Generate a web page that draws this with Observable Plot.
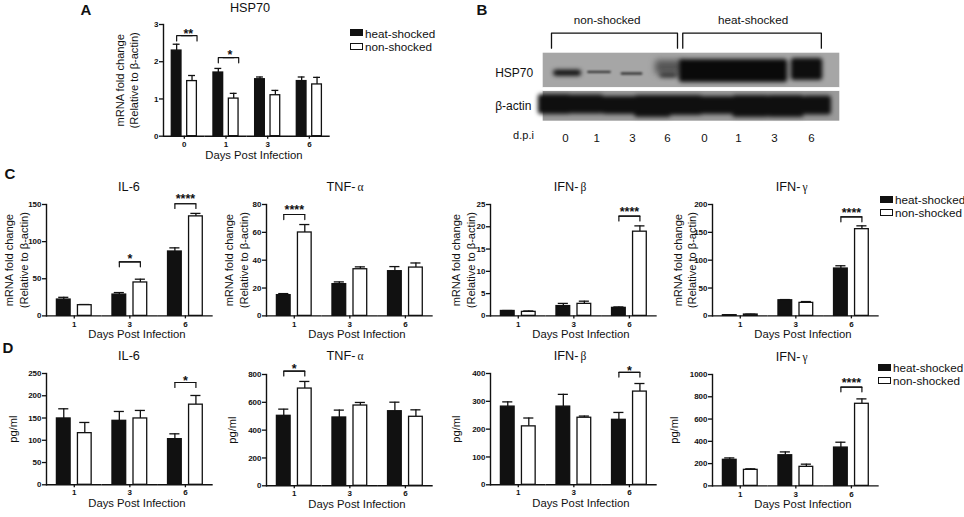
<!DOCTYPE html>
<html>
<head>
<meta charset="utf-8">
<script src="https://cdn.jsdelivr.net/npm/d3@7"></script>
<script src="https://cdn.jsdelivr.net/npm/@observablehq/plot@0.6"></script>
<style>
  body { margin: 0; background: #fff; }
  #page { position: relative; width: 964px; height: 517px; overflow: hidden; font-family: "Liberation Sans", Arial, sans-serif; color: #111; }
  #page svg { position: absolute; overflow: visible; background: transparent; }
  #page div { position: absolute; white-space: nowrap; }
  .title { font-size: 12.7px; transform: translate(-50%, -50%); }
  .title span { font-family: "Liberation Serif", serif; font-size: 11.5px; margin-left: 2px; }
  .letter { font-size: 15px; font-weight: bold; transform: translate(-50%, -50%); }
  .legend-label { font-size: 11.7px; transform: translateY(-50%); }
  .swatch { box-sizing: border-box; width: 12.5px; height: 7px; border: 1.3px solid #111; }
  svg g[aria-description="thin"] { filter: blur(0.8px); }
  svg g[aria-description="bands"] { filter: blur(2px); }
  svg g[aria-description="smear"] { filter: blur(3px); }
</style>
</head>
<body>
<div id="page"></div>
<script>
const groups = ["heat-shocked", "non-shocked"];
const daysA = [0, 1, 3, 6];
const days = [1, 3, 6];

// panel A, mRNA
const hsp70Heat = [2.3, 1.71, 1.53, 1.48];
const hsp70HeatTop = [2.47, 1.82, 1.59, 1.59];
const hsp70Non = [1.48, 1.01, 1.1, 1.39];
const hsp70NonTop = [1.63, 1.15, 1.23, 1.58];
const hsp70Ticks = [0, 1, 2, 3];
const hsp70Sig = [[0, 2.7, 2.56, 2.83, "**"], [1, 2.11, 1.97, 2.25, "*"]];

// panel C, mRNA
const il6MrnaHeat = [22, 28.7, 86.7];
const il6MrnaHeatTop = [25, 31.4, 91.6];
const il6MrnaNon = [14.4, 45, 134];
const il6MrnaNonTop = [15.3, 49.4, 138];
const il6MrnaTicks = [0, 50, 100, 150];
const il6MrnaSig = [[3, 72.7, 66, 80, "*"], [6, 151, 144.6, 161, "****"]];

const tnfMrnaHeat = [14.9, 22.8, 32.1];
const tnfMrnaHeatTop = [16, 24.4, 35.4];
const tnfMrnaNon = [59.9, 33.5, 34.7];
const tnfMrnaNonTop = [65.6, 35.2, 38];
const tnfMrnaTicks = [0, 20, 40, 60, 80];
const tnfMrnaSig = [[1, 72.8, 69.2, 78.3, "****"]];

const ifnbMrnaHeat = [1.1, 2.2, 1.8];
const ifnbMrnaHeatTop = [1.2, 2.8, 2];
const ifnbMrnaNon = [0.9, 2.7, 18.9];
const ifnbMrnaNonTop = [1.1, 3.3, 20.2];
const ifnbMrnaTicks = [0, 5, 10, 15, 20, 25];
const ifnbMrnaSig = [[6, 22.4, 21.3, 24.1, "****"]];

const ifngMrnaHeat = [1.2, 28, 85];
const ifngMrnaHeatTop = [1.8, 29.3, 90];
const ifngMrnaNon = [2.4, 23.4, 155.7];
const ifngMrnaNonTop = [3, 25.7, 161.7];
const ifngMrnaTicks = [0, 50, 100, 150, 200];
const ifngMrnaSig = [[6, 177.8, 168.9, 191, "****"]];

// panel D, protein
const il6ProtHeat = [149, 143.7, 102.5];
const il6ProtHeatTop = [170.7, 164.7, 114.5];
const il6ProtNon = [116, 149, 180];
const il6ProtNonTop = [140, 167, 200.6];
const il6ProtTicks = [0, 50, 100, 150, 200, 250];
const il6ProtSig = [[6, 229.8, 218.6, 241, "*"]];

const tnfProtHeat = [503, 491, 536];
const tnfProtHeatTop = [551, 544, 601];
const tnfProtNon = [699, 577, 496];
const tnfProtNonTop = [750, 599, 546];
const tnfProtTicks = [0, 200, 400, 600, 800];
const tnfProtSig = [[1, 824, 790, 860, "*"]];

const ifnbProtHeat = [281, 281, 233.5];
const ifnbProtHeatTop = [298, 325, 260];
const ifnbProtNon = [210, 241, 335];
const ifnbProtNonTop = [240, 247, 364];
const ifnbProtTicks = [0, 100, 200, 300, 400];
const ifnbProtSig = [[6, 404, 387, 421, "*"]];

const ifngProtHeat = [234, 275, 344];
const ifngProtHeatTop = [251, 305, 392];
const ifngProtNon = [144, 171, 737];
const ifngProtNonTop = [153, 195, 781];
const ifngProtTicks = [0, 200, 400, 600, 800, 1000];
const ifngProtSig = [[6, 886, 844, 955, "****"]];

// panel B, blot bands: lane, lane span, height on the page, thickness, shade
const dpiLabels = [0, 1, 3, 6, 0, 1, 3, 6];
const dpiLanes = [0, 0.89, 1.91, 2.91, 3.97, 4.94, 5.97, 7.03];
const hspLane = [0.06, 2.95, 4.8, 6.9];
const hspSpan = [0.8, 0.5, 3.1, 0.9];
const hspMid = [72.7, 75, 70.5, 69];
const hspThick = [6, 5, 23, 22];
const hspShade = ["#0c0c0c", "#333", "#0a0a0a", "#0e0e0e"];
const thinLane = [0.97, 1.9];
const thinSpan = [0.68, 0.62];
const thinMid = [71.8, 73.5];
const thinThick = [1.8, 1.8];
const smearLane = [2.95];
const smearSpan = [0.75];
const smearMid = [67];
const smearThick = [14];
const actinLane = [-0.3, 0.6, 1.55, 2.5, 3.4, 4.3, 5.3, 6.3, 7.2];
const actinSpan = [0.95, 1, 1, 1.05, 1.05, 1.05, 1.05, 1.05, 0.8];
const actinMid = [104, 104, 105, 106, 105, 105, 106, 106, 105];
const actinThick = [20, 19, 18, 22, 20, 18, 22, 22, 19];

const page = document.getElementById("page");

function addText(cls, x, y, html) {
  const el = document.createElement("div");
  el.className = cls;
  el.style.left = x + "px";
  el.style.top = y + "px";
  el.innerHTML = html;
  page.appendChild(el);
}

function addLegend(x, y1, y2) {
  [[y1, "#111"], [y2, "#fff"]].forEach(([y, fill], i) => {
    const sw = document.createElement("div");
    sw.className = "swatch";
    sw.style.left = x + "px";
    sw.style.top = y - 3.5 + "px";
    sw.style.background = fill;
    page.appendChild(sw);
    addText("legend-label", x + 15, y, groups[i]);
  });
}

function barPanel(p) {
  const marginLeft = 52, marginTop = 34, marginBottom = 34, marginRight = 4;
  const rows = p.days.flatMap((day, i) => [
    {day, group: groups[0], value: p.heat[i], top: p.heatTop[i]},
    {day, group: groups[1], value: p.non[i], top: p.nonTop[i]}
  ]);
  const stars = p.sig.map(([day, , , y, text]) => ({day, y, text}));
  const legLeft = p.sig.flatMap(([day, top, leg], z) => [
    {z, day, group: groups[0], y: leg},
    {z, day, group: groups[0], y: top},
    {z, day, group: groups[1], y: top}
  ]);
  const legRight = p.sig.flatMap(([day, top, leg], z) => [
    {z, day, group: groups[0], y: top},
    {z, day, group: groups[1], y: top},
    {z, day, group: groups[1], y: leg}
  ]);
  const yMax = p.ticks[p.ticks.length - 1];
  const chart = Plot.plot({
    width: marginLeft + p.w + marginRight,
    height: marginTop + p.h + marginBottom,
    marginLeft, marginRight, marginTop, marginBottom,
    style: {fontFamily: '"Liberation Sans", Arial, sans-serif', color: "#111", background: "transparent", overflow: "visible"},
    fx: {domain: p.days, padding: 0, round: false, label: null},
    x: {domain: groups, axis: null, paddingInner: p.inner, paddingOuter: p.outer, round: false},
    y: {domain: [0, yMax], label: null},
    color: {domain: groups, range: ["#111", "#fff"]},
    marks: [
      Plot.ruleX(rows, {fx: "day", x: "group", y1: "value", y2: "top", stroke: "#111", strokeWidth: 1.3}),
      Plot.tickY(rows, {fx: "day", x: "group", y: "top", stroke: "#111", strokeWidth: 1.3, insetLeft: p.cap, insetRight: p.cap}),
      Plot.barY(rows, {fx: "day", x: "group", y: "value", fill: "group", stroke: "#111", strokeWidth: 1.3}),
      Plot.line(legLeft, {fx: "day", x: "group", y: "y", z: "z", stroke: "#111", strokeWidth: 1.2}),
      Plot.line(legRight, {fx: "day", x: "group", y: "y", z: "z", stroke: "#111", strokeWidth: 1.2, dx: p.spread || 0}),
      Plot.text(stars, {fx: "day", y: "y", text: "text", fontSize: 12.5, fontWeight: "bold", fill: "#111", dy: 3, dx: p.spread ? p.spread * 0.8 : 0}),
      Plot.ruleY([0], {stroke: "#111", strokeWidth: 1.4}),
      Plot.frame({anchor: "left", facet: "super", stroke: "#111", strokeWidth: 1.4}),
      Plot.axisY({ticks: p.ticks, tickFormat: "d", tickSize: 4, tickPadding: 1, fontSize: 8, fontWeight: "bold", strokeWidth: 1.3, label: null}),
      Plot.axisFx({anchor: "bottom", tickSize: 3, tickPadding: 2, fontSize: 8, fontWeight: "bold", strokeWidth: 1.3, label: null}),
      Plot.text([p.yLabel], {facet: "super", frameAnchor: "left", rotate: -90, text: d => d, fontSize: 11.1, lineHeight: 1.3, fill: "#111", textAnchor: "middle", dx: p.labelDx, dy: p.labelDy || 0}),
      Plot.text(["Days Post Infection"], {facet: "super", frameAnchor: "bottom", text: d => d, fontSize: 11.3, fill: "#111", dx: p.xLabelDx, dy: 22.5})
    ]
  });
  chart.style.left = p.x - marginLeft + "px";
  chart.style.top = p.top - marginTop + "px";
  page.appendChild(chart);
  addText("title", p.titleX, p.titleY, p.title);
}

const mrna = "mRNA fold change\n(Relative to β-actin)";
const wide = {w: 166.7, inner: 0.348, outer: 0.495, cap: 1.8, xLabelDx: 7};

barPanel({...wide, title: "HSP70", titleX: 250, titleY: 8, x: 162.7, top: 24.3, h: 111.7, days: daysA,
  heat: hsp70Heat, heatTop: hsp70HeatTop, non: hsp70Non, nonTop: hsp70NonTop, ticks: hsp70Ticks, sig: hsp70Sig,
  yLabel: mrna, labelDx: -37, inner: 0.37, outer: 0.539, cap: 1.4, spread: 5, xLabelDx: 7});

barPanel({...wide, title: "IL-6", titleX: 129, titleY: 187, x: 46, top: 204.3, h: 111.4, days,
  heat: il6MrnaHeat, heatTop: il6MrnaHeatTop, non: il6MrnaNon, nonTop: il6MrnaNonTop, ticks: il6MrnaTicks, sig: il6MrnaSig,
  yLabel: mrna, labelDx: -30.5});
barPanel({...wide, title: "TNF-<span>α</span>", titleX: 345, titleY: 187, x: 265.7, top: 204.3, h: 111.4, days,
  heat: tnfMrnaHeat, heatTop: tnfMrnaHeatTop, non: tnfMrnaNon, nonTop: tnfMrnaNonTop, ticks: tnfMrnaTicks, sig: tnfMrnaSig,
  yLabel: mrna, labelDx: -30.5});
barPanel({...wide, title: "IFN-<span>β</span>", titleX: 570, titleY: 187, x: 490, top: 204.3, h: 111.4, days,
  heat: ifnbMrnaHeat, heatTop: ifnbMrnaHeatTop, non: ifnbMrnaNon, nonTop: ifnbMrnaNonTop, ticks: ifnbMrnaTicks, sig: ifnbMrnaSig,
  yLabel: mrna, labelDx: -27.5});
barPanel({...wide, title: "IFN-<span>γ</span>", titleX: 791.7, titleY: 187, x: 711.7, top: 204.3, h: 111.4, days,
  heat: ifngMrnaHeat, heatTop: ifngMrnaHeatTop, non: ifngMrnaNon, nonTop: ifngMrnaNonTop, ticks: ifngMrnaTicks, sig: ifngMrnaSig,
  yLabel: mrna, labelDx: -28});

barPanel({...wide, title: "IL-6", titleX: 129, titleY: 355.7, x: 46, top: 372.7, h: 111.3, days,
  heat: il6ProtHeat, heatTop: il6ProtHeatTop, non: il6ProtNon, nonTop: il6ProtNonTop, ticks: il6ProtTicks, sig: il6ProtSig,
  yLabel: "pg/ml", labelDx: -34, xLabelDx: 7});
barPanel({...wide, title: "TNF-<span>α</span>", titleX: 345, titleY: 355.7, x: 265.7, top: 374, h: 111.3, days,
  heat: tnfProtHeat, heatTop: tnfProtHeatTop, non: tnfProtNon, nonTop: tnfProtNonTop, ticks: tnfProtTicks, sig: tnfProtSig,
  yLabel: "pg/ml", labelDx: -35, xLabelDx: 7});
barPanel({...wide, title: "IFN-<span>β</span>", titleX: 570, titleY: 355.7, x: 490, top: 372.7, h: 111.3, days,
  heat: ifnbProtHeat, heatTop: ifnbProtHeatTop, non: ifnbProtNon, nonTop: ifnbProtNonTop, ticks: ifnbProtTicks, sig: ifnbProtSig,
  yLabel: "pg/ml", labelDx: -35, xLabelDx: 7});
barPanel({...wide, title: "IFN-<span>γ</span>", titleX: 791.7, titleY: 357, x: 711.7, top: 374.3, h: 111.4, days,
  heat: ifngProtHeat, heatTop: ifngProtHeatTop, non: ifngProtNon, nonTop: ifngProtNonTop, ticks: ifngProtTicks, sig: ifngProtSig,
  yLabel: "pg/ml", labelDx: -39, xLabelDx: 7});

// panel B: a drawn stand-in for the western blot
const hspBands = hspLane.map((lane, i) => ({lane, span: hspSpan[i], mid: hspMid[i], thick: hspThick[i], shade: hspShade[i]}));
const thinBands = thinLane.map((lane, i) => ({lane, span: thinSpan[i], mid: thinMid[i], thick: thinThick[i], shade: "#1c1c1c"}));
const smearBands = smearLane.map((lane, i) => ({lane, span: smearSpan[i], mid: smearMid[i], thick: smearThick[i], shade: "#555"}));
const actinBands = actinLane.map((lane, i) => ({lane, span: actinSpan[i], mid: actinMid[i], thick: actinThick[i], shade: "#0f0f0f"}));
const blotBands = [...actinBands, ...hspBands];
const strips = [{y1: 52.7, y2: 87.3, shade: "#a6a6a6"}, {y1: 90.7, y2: 120.7, shade: "#9a9a9a"}];
const braces = [
  {z: 0, lane: -0.4, y: 47.7}, {z: 0, lane: -0.4, y: 32.7}, {z: 0, lane: 3.2, y: 32.7}, {z: 0, lane: 3.2, y: 47.7},
  {z: 1, lane: 3.35, y: 47.7}, {z: 1, lane: 3.35, y: 32.7}, {z: 1, lane: 7.31, y: 32.7}, {z: 1, lane: 7.31, y: 47.7}
];
const bandRect = {
  x1: d => d.lane - d.span / 2, x2: d => d.lane + d.span / 2,
  y1: d => d.mid - d.thick / 2, y2: d => d.mid + d.thick / 2,
  fill: "shade", rx: 3
};
const blot = Plot.plot({
  width: 370,
  height: 150,
  margin: 0,
  style: {fontFamily: '"Liberation Sans", Arial, sans-serif', color: "#111", background: "transparent", overflow: "visible"},
  x: {domain: [-0.637, 7.837], range: [62.7, 359.3], axis: null},
  y: {domain: [0, 150], range: [0, 150], axis: null},
  marks: [
    Plot.rect(strips, {x1: -0.637, x2: 7.837, y1: "y1", y2: "y2", fill: "shade"}),
    Plot.rect(smearBands, {...bandRect, ariaDescription: "smear"}),
    Plot.rect(blotBands, {...bandRect, ariaDescription: "bands"}),
    Plot.rect(thinBands, {...bandRect, rx: 1, ariaDescription: "thin"}),
    Plot.rect([{y1: 87.3, y2: 90.7}], {x1: -0.637, x2: 7.837, y1: "y1", y2: "y2", fill: "#fff"}),
    Plot.line(braces, {x: "lane", y: "y", z: "z", stroke: "#111", strokeWidth: 1.3}),
    Plot.text(["non-shocked"], {x: 1.19, y: 20, text: d => d, fontSize: 11.7, fill: "#111"}),
    Plot.text(["heat-shocked"], {x: 5.36, y: 20, text: d => d, fontSize: 11.7, fill: "#111"}),
    Plot.text(["HSP70"], {x: -2.01, y: 72.7, text: d => d, fontSize: 12, textAnchor: "start", fill: "#111"}),
    Plot.text(["β-actin"], {x: -2.01, y: 106, text: d => d, fontSize: 12, textAnchor: "start", fill: "#111"}),
    Plot.text(["d.p.i"], {x: -1.2, y: 135, text: d => d, fontSize: 11, fill: "#111"}),
    Plot.text(dpiLabels, {x: (d, i) => dpiLanes[i], y: 138, text: d => String(d), fontSize: 11.5, fill: "#111"})
  ]
});
blot.style.left = "480px";
blot.style.top = "0px";
page.appendChild(blot);

addText("letter", 86, 9, "A");
addText("letter", 482, 9, "B");
addText("letter", 10, 173, "C");
addText("letter", 8, 347, "D");

addLegend(350, 32.7, 46);
addLegend(880, 199, 212);
addLegend(878, 367, 380);
</script>
</body>
</html>
